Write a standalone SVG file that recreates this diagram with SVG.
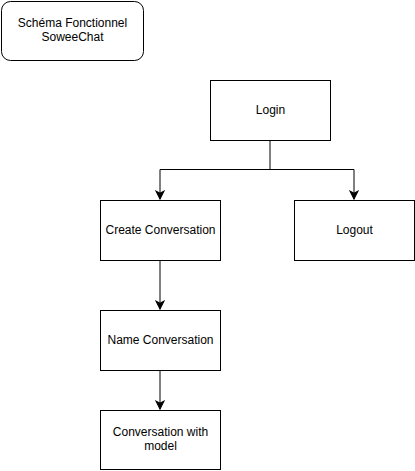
<svg xmlns="http://www.w3.org/2000/svg" width="415" height="471" viewBox="0 0 415 471">
<style>
.box{fill:#fff;stroke:#000;stroke-width:1}
.lbl{font-family:"Liberation Sans",Arial,sans-serif;font-size:12px;fill:#000;text-anchor:middle}
.edge{fill:none;stroke:#000;stroke-width:1}
</style>
<defs>
<marker id="arr" markerUnits="userSpaceOnUse" markerWidth="10" markerHeight="10" viewBox="-8 -4 9 8" refX="0" refY="0" orient="auto">
<path d="M0,0 L-7,-3.5 L-5.25,0 L-7,3.5 Z" fill="#000" stroke="#000" stroke-width="1"/>
</marker>
</defs>
<rect width="415" height="471" fill="#fff"/>
<g id="title">
<rect class="box" x="1.5" y="1.5" width="142" height="59" rx="9" ry="9"/>
<text class="lbl" x="72.5" y="27">Schéma Fonctionnel</text>
<text class="lbl" x="72.5" y="40.5">SoweeChat</text>
</g>
<g id="connectors">
<path class="edge" d="M270,140 V169.5 H160 V199" marker-end="url(#arr)"/>
<path class="edge" d="M270,169.5 H354 V199" marker-end="url(#arr)"/>
<path class="edge" d="M160,260 V309" marker-end="url(#arr)"/>
<path class="edge" d="M160,370 V409" marker-end="url(#arr)"/>
</g>
<g id="login">
<rect class="box" x="210.5" y="80.5" width="120" height="60"/>
<text class="lbl" x="270.5" y="113.5">Login</text>
</g>
<g id="create">
<rect class="box" x="100.5" y="200.5" width="120" height="60"/>
<text class="lbl" x="160.5" y="233.5">Create Conversation</text>
</g>
<g id="logout">
<rect class="box" x="294.5" y="200.5" width="120" height="60"/>
<text class="lbl" x="354.5" y="233.5">Logout</text>
</g>
<g id="name">
<rect class="box" x="100.5" y="310.5" width="120" height="60"/>
<text class="lbl" x="160.5" y="343.5">Name Conversation</text>
</g>
<g id="model">
<rect class="box" x="100.5" y="410.5" width="120" height="59"/>
<text class="lbl" x="160.5" y="436">Conversation with</text>
<text class="lbl" x="160.5" y="449.5">model</text>
</g>
</svg>
